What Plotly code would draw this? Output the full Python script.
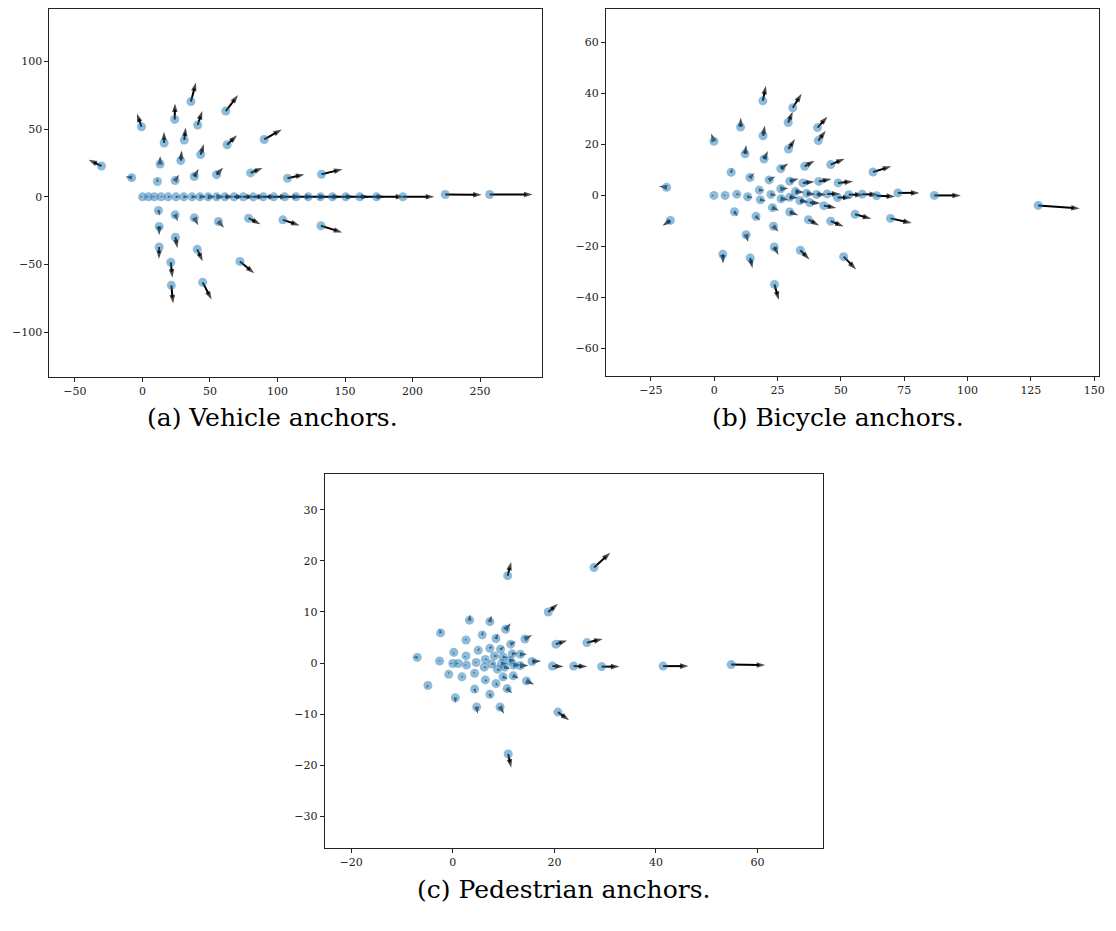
import math
import plotly.graph_objects as go

# the page keeps the browser's default 8px body margin; page coords = figure coords + OFF
OFF = 8
W, H = 1102, 900

# ---------------- (a) Vehicle anchors ----------------
veh_x = [0.1, 4.5, 8.9, 13.8, 19.0, 24.9, 30.6, 36.7, 42.6, 48.7, 54.9, 61.0, 67.8, 74.7,
         82.1, 89.4, 97.2, 105.4, 113.8, 122.8, 131.8, 140.7, 150.6, 160.9, 173.4, 192.8, 224.2, 257.1,
         -30.3, -8.0, -0.7, 11.1, 13.1, 16.1, 23.9, 35.9, 24.2, 28.4, 31.0, 40.9, 38.4, 43.1,
         61.7, 62.7, 54.9, 80.1, 90.2, 107.4, 132.6,
         11.9, 12.4, 12.4, 21.0, 21.4, 24.2, 24.4, 38.4, 40.6, 44.6, 56.3, 72.2, 78.6, 104.0, 132.2]
veh_y = [0, 0, 0, 0, 0, 0, 0, 0, 0, 0, 0, 0, 0, 0,
         0, 0, 0, 0, 0, 0, 0, 0, 0, 0, 0, 0, 1.7, 1.7,
         22.8, 14.2, 51.8, 11.3, 24.3, 39.8, 57.2, 70.4, 12.0, 26.8, 42.0, 53.1, 15.0, 31.2,
         63.4, 38.5, 16.4, 17.7, 42.4, 13.7, 16.7,
         -10.1, -21.9, -37.1, -48.4, -65.4, -13.3, -29.8, -15.5, -38.8, -63.2, -18.2, -47.7, -15.8, -17.0, -21.4]
veh_u = [0.2, 0.6, 1.0, 1.6, 2.2, 2.8, 3.4, 4.1, 4.8, 5.5, 6.2, 7.0, 7.8, 8.6,
         9.4, 10.3, 11.2, 12.2, 13.2, 14.2, 15.3, 16.4, 17.6, 18.9, 20.5, 23.3, 27.0, 31.7,
         -9.6, -4.6, -3.4, 0.0, 0.0, -0.2, 0.2, 3.7, 2.9, 0.7, 1.0, 3.4, 3.2, 2.4,
         9.1, 7.4, 4.9, 8.8, 13.0, 12.5, 15.5,
         1.0, 0.0, -0.2, 1.2, 1.3, 2.0, 1.5, 2.9, 4.0, 6.6, 4.1, 10.6, 8.8, 12.4, 15.7]
veh_v = [0, 0, 0, 0, 0, 0, 0, 0, 0, 0, 0, 0, 0, 0,
         0, 0, 0, 0, 0, 0, 0, 0, 0, 0, 0, 0, -0.2, 0.0,
         4.6, 0.7, 9.8, 2.7, 5.9, 8.3, 11.8, 14.0, 4.4, 7.4, 9.3, 10.3, 5.7, 7.9,
         11.8, 7.1, 5.2, 3.7, 7.4, 2.9, 3.7,
         -3.7, -6.4, -8.8, -11.3, -13.5, -4.7, -8.1, -5.5, -8.8, -12.7, -4.6, -8.8, -4.4, -4.1, -4.9]

# ---------------- (b) Bicycle anchors ----------------
bic_x = [-0.1, 10.4, 19.2, 19.3, 29.2, 31.0, 40.8, 41.1, 12.2, 19.7, 29.3, 35.7, 6.7, 14.1,
         21.7, 26.3, 29.8, 35.0, 41.3, 46.0, 62.7, 48.9, -18.8, -17.3, -0.1, 4.3, 8.9, 13.2,
         17.8, 18.2, 22.4, 26.3, 26.4, 29.8, 32.1, 33.8, 36.5, 37.7, 40.4, 43.3, 44.6, 48.7,
         53.1, 58.4, 64.1, 72.5, 86.9, 127.9, 23.0, 29.8, 37.2, 8.0, 16.5, 23.4, 12.6, 23.7,
         34.0, 3.4, 14.2, 23.8, 55.6, 46.0, 69.6, 51.1]
bic_y = [21.1, 26.7, 37.0, 23.3, 28.5, 34.3, 26.5, 21.4, 16.2, 14.2, 18.1, 11.3, 9.0, 6.9,
         6.0, 10.4, 5.5, 4.8, 5.4, 12.0, 9.1, 4.8, 3.1, -9.9, -0.1, -0.1, 0.4, -0.6,
         2.0, -1.8, 0.3, 2.5, -1.4, -0.8, 1.4, -2.1, 0.7, -2.9, 0.3, -4.1, 0.5, -0.9,
         0.2, 0.4, -0.2, 0.9, -0.1, -4.0, -4.9, -6.6, -9.6, -6.5, -8.3, -12.2, -15.5, -20.3,
         -21.6, -23.2, -24.6, -35.0, -7.5, -10.2, -9.1, -24.1]
bic_u = [-1.1, 0.1, 1.2, 0.7, 1.8, 3.5, 3.9, 2.9, 0.4, 1.5, 2.6, 3.9, 0.4, 1.7,
         2.4, 2.9, 3.5, 4.6, 5.0, 5.5, 7.2, 5.9, -3.0, -3.1, 0.1, 0.4, 1.3, 2.0,
         2.0, 2.2, 2.2, 3.0, 2.9, 3.4, 3.4, 3.6, 3.5, 4.2, 3.9, 4.9, 5.2, 5.5,
         5.9, 6.3, 7.3, 8.5, 10.5, 16.4, 2.6, 3.4, 4.2, 1.2, 1.6, 2.0, 0.8, 1.7,
         3.6, 0.1, 0.9, 1.7, 6.4, 5.1, 8.4, 4.9]
bic_v = [3.1, 3.7, 5.9, 4.0, 4.3, 5.5, 4.3, 3.9, 3.5, 3.1, 3.9, 2.2, 1.7, 1.8,
         1.3, 2.0, 0.9, 0.5, 0.9, 2.3, 2.2, 0.6, 0.4, -2.1, 0.0, 0.0, -0.1, -0.4,
         -0.2, -0.5, -0.3, 0.2, -0.4, -0.2, -0.3, -0.7, -0.4, -0.3, 0.0, -0.9, 0.0, -0.1,
         0.0, -0.2, -0.3, 0.0, 0.0, -1.2, -1.1, -1.3, -2.3, -1.8, -1.6, -2.0, -2.9, -3.2,
         -3.6, -3.6, -4.1, -6.1, -1.7, -2.1, -1.8, -5.0]

# ---------------- (c) Pedestrian anchors ----------------
ped_x = [10.8, 27.8, 18.8, 14.2, 20.3, 26.4, 13.3, 15.6, 13.3, 19.6, 23.8, 29.3, 41.4, 54.8,
         14.5, 20.7, 10.9, 3.3, 7.3, -2.4, 5.8, 2.6, 8.5, 10.4, 5.0, 7.3, 9.4, 11.4,
         0.2, 2.6, -2.6, -7.0, 0.0, 1.1, 2.7, 4.6, 6.4, 8.2, 9.9, 11.7, 7.7, 9.6,
         11.2, 12.0, 6.2, -0.8, 1.8, 4.3, 8.8, 10.2, 9.9, 11.9, 6.4, 8.5, 10.7, 4.3,
         -4.9, 0.5, 7.3, 4.7, 9.3]
ped_y = [17.1, 18.7, 10.0, 4.7, 3.7, 4.0, 1.7, 0.3, -0.5, -0.6, -0.6, -0.7, -0.6, -0.3,
         -3.5, -9.6, -17.8, 8.4, 8.1, 5.9, 5.5, 4.5, 4.8, 6.6, 2.5, 2.9, 2.7, 3.7,
         2.1, 1.4, 0.4, 1.1, -0.1, -0.1, -0.4, 0.1, 0.7, 1.4, 1.2, 1.8, -0.2, -0.1,
         0.5, -0.4, -0.8, -2.2, -2.7, -2.0, -1.2, -0.8, -2.7, -2.5, -3.3, -4.0, -5.0, -5.1,
         -4.4, -6.8, -6.1, -8.6, -8.6]
ped_u = [0.7, 3.2, 1.9, 1.4, 2.2, 3.1, 1.3, 1.8, 1.6, 2.2, 2.7, 3.5, 5.0, 6.7,
         1.5, 2.2, 0.6, 0.1, 0.3, -0.2, 0.2, -0.3, 0.4, 1.0, 0.3, 0.5, 0.7, 1.0,
         0.0, 0.05, -0.3, -0.8, 0.02, 0.1, 0.1, 0.2, 0.5, 0.7, 0.9, 1.0, 0.7, 1.1,
         1.2, 1.4, 0.5, 0.0, -0.3, 0.1, 0.6, 1.1, 0.9, 1.1, 0.4, 0.4, 1.0, 0.2,
         -0.3, 0.0, 0.3, 0.2, 0.8]
ped_v = [2.7, 2.9, 1.6, 0.8, 0.7, 0.7, 0.0, 0.1, 0.0, -0.1, -0.1, 0.0, 0.0, -0.1,
         -0.7, -1.6, -2.7, 1.1, 1.2, 0.8, 0.7, 0.3, 1.0, 1.2, 0.5, 0.5, 0.5, 0.5,
         0.1, 0.05, 0.0, 0.1, 0.0, 0.0, 0.0, 0.0, 0.0, 0.0, -0.1, 0.1, 0.0, 0.0,
         0.1, 0.0, -0.1, -0.05, 0.0, -0.1, -0.3, -0.3, -0.4, -0.5, -0.4, -0.5, -0.9, -0.8,
         -0.5, -1.0, -0.8, -1.3, -1.3]

captions = ["(a) Vehicle anchors.", "(b) Bicycle anchors.", "(c) Pedestrian anchors."]

# pixel boxes below are in page (window) coordinates
panels = [
    dict(data=(veh_x, veh_y, veh_u, veh_v), xpx=(49.6, 545.0), ypx=(9.0, 376.7),
         xr=(-68.9, 295.9), yr=(-132.9, 138.8),
         xt=[-50, 0, 50, 100, 150, 200, 250], yt=[-100, -50, 0, 50, 100],
         cap=(273.5, 418)),
    dict(data=(bic_x, bic_y, bic_u, bic_v), xpx=(609.3, 1105.0), ypx=(9.0, 376.0),
         xr=(-42.7, 151.9), yr=(-70.9, 73.0),
         xt=[-25, 0, 25, 50, 75, 100, 125, 150], yt=[-60, -40, -20, 0, 20, 40, 60],
         cap=(842.5, 418)),
    dict(data=(ped_x, ped_y, ped_u, ped_v), xpx=(326.5, 827.6), ypx=(474.0, 848.0),
         xr=(-25.2, 72.9), yr=(-36.2, 37.0),
         xt=[-20, 0, 20, 40, 60], yt=[-30, -20, -10, 0, 10, 20, 30],
         cap=(567.0, 889)),
]

ANCHOR_COLOR = "rgba(31,119,180,0.5)"
HEAD = 9.0
fig = go.Figure()
layout = {}
annotations = []
for i, p in enumerate(panels):
    sfx = "" if i == 0 else str(i + 1)
    xa, ya = "x" + sfx, "y" + sfx
    xs, ys, us, vs = p["data"]
    x0, x1 = p["xpx"][0] - OFF, p["xpx"][1] - OFF
    y0, y1 = p["ypx"][0] - OFF, p["ypx"][1] - OFF
    sx = (x1 - x0) / (p["xr"][1] - p["xr"][0])
    sy = (y1 - y0) / (p["yr"][1] - p["yr"][0])
    shx, shy, hx, hy, ha, hs = [], [], [], [], [], []
    for x, y, u, v in zip(xs, ys, us, vs):
        du, dv = u * sx, v * sy
        plen = math.hypot(du, dv)
        size = max(2.5, HEAD * min(1.0, plen / 8.0))
        hl = 0.95 * size
        if plen > hl:
            frac = 1 - 0.7 * hl / plen
            shx += [x, x + u * frac, None]
            shy += [y, y + v * frac, None]
        ang = math.degrees(math.atan2(dv, du)) if plen > 0 else 0.0
        hx.append(x + u)
        hy.append(y + v)
        ha.append(90 - ang)
        hs.append(size)
    fig.add_trace(go.Scatter(x=shx, y=shy, mode="lines", xaxis=xa, yaxis=ya,
                             line=dict(color="black", width=2.0), hoverinfo="skip",
                             showlegend=False))
    fig.add_trace(go.Scatter(x=hx, y=hy, mode="markers", xaxis=xa, yaxis=ya,
                             marker=dict(symbol="arrow", size=hs, angle=ha, color="black",
                                         line=dict(width=0)),
                             hoverinfo="skip", showlegend=False))
    fig.add_trace(go.Scatter(x=xs, y=ys, mode="markers", xaxis=xa, yaxis=ya,
                             marker=dict(size=9, color=ANCHOR_COLOR, line=dict(width=0)),
                             showlegend=False))
    common = dict(showgrid=False, zeroline=False, showline=True, linecolor="#222",
                  linewidth=1, mirror=True, ticks="outside", ticklen=4, tickwidth=1,
                  tickcolor="#222", ticklabeloverflow="allow",
                  tickfont=dict(family="DejaVu Serif", size=11, color="#222"))
    layout["xaxis" + sfx] = dict(domain=[x0 / W, x1 / W],
                                 range=list(p["xr"]), tickvals=p["xt"], anchor=ya, **common)
    layout["yaxis" + sfx] = dict(domain=[1 - y1 / H, 1 - y0 / H],
                                 range=list(p["yr"]), tickvals=p["yt"], anchor=xa, **common)
    annotations.append(dict(text=captions[i], x=(p["cap"][0] - OFF) / W,
                            y=1 - (p["cap"][1] - OFF) / H,
                            xref="paper", yref="paper", showarrow=False,
                            xanchor="center", yanchor="middle",
                            font=dict(family="DejaVu Serif", size=25, color="black")))

fig.update_layout(width=W, height=H, margin=dict(l=0, r=0, t=0, b=0),
                  paper_bgcolor="white", plot_bgcolor="white",
                  annotations=annotations, showlegend=False, **layout)
fig.write_html("out.html", config={"displayModeBar": False})
